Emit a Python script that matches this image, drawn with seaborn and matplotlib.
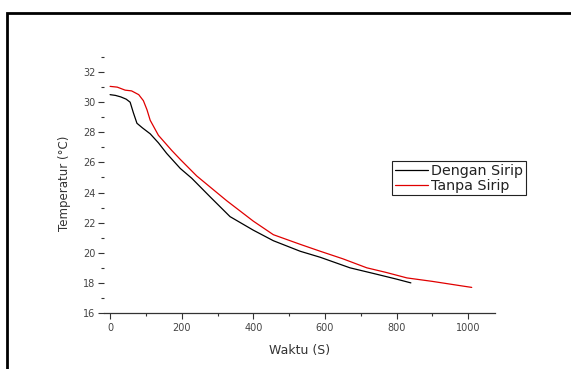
import matplotlib
matplotlib.use("Agg")
import matplotlib.pyplot as plt
import seaborn as sns
import pandas as pd
from matplotlib.patches import Rectangle

# Data
t_dengan = [0, 15, 30, 45, 56, 65, 75, 90, 112, 135, 158, 196, 228, 280, 335,
            400, 456, 531, 587, 670, 740, 800, 840]
T_dengan = [30.5, 30.45, 30.35, 30.2, 30.0, 29.3, 28.6, 28.3, 27.9, 27.3, 26.6,
            25.6, 24.95, 23.7, 22.4, 21.5, 20.8, 20.1, 19.7, 19.0, 18.6, 18.25, 18.0]
t_tanpa = [0, 20, 42, 60, 80, 93, 103, 112, 135, 172, 196, 242, 326, 400, 456,
           531, 587, 650, 717, 770, 829, 900, 982, 1010]
T_tanpa = [31.05, 31.0, 30.8, 30.75, 30.5, 30.1, 29.5, 28.8, 27.8, 26.8, 26.2,
           25.1, 23.45, 22.1, 21.2, 20.56, 20.1, 19.6, 19.0, 18.7, 18.33, 18.1,
           17.8, 17.7]
series_names = ["Dengan Sirip", "Tanpa Sirip"]
series_colors = ["#000000", "#e00000"]
x_ticks = [0, 200, 400, 600, 800, 1000]
y_ticks = [16, 18, 20, 22, 24, 26, 28, 30, 32]

df = pd.concat([
    pd.DataFrame({"Waktu": t_dengan, "Temp": T_dengan, "Seri": series_names[0]}),
    pd.DataFrame({"Waktu": t_tanpa, "Temp": T_tanpa, "Seri": series_names[1]}),
], ignore_index=True)

sns.set_style("white")
plt.rcParams["font.family"] = ["DejaVu Sans"]

W, H = 571, 369
fig = plt.figure(figsize=(W / 100, H / 100), dpi=100)
ax = fig.add_axes([104 / W, 1 - 313 / H, (495 - 104) / W, (313 - 54) / H])

sns.lineplot(data=df, x="Waktu", y="Temp", hue="Seri", hue_order=series_names,
             palette=series_colors, linewidth=0.9, ax=ax, legend=True,
             estimator=None, sort=False)

ax.set_xlim(-17, 1075)
ax.set_ylim(16, 33.2)
ax.set_xticks(x_ticks)
ax.set_xticklabels([str(v) for v in x_ticks])
ax.set_yticks(y_ticks)
ax.set_yticklabels([str(v) for v in y_ticks])
ax.set_xticks(range(100, 1075, 200), minor=True)
ax.set_yticks(range(17, 34, 2), minor=True)

for s in ["top", "right", "left"]:
    ax.spines[s].set_visible(False)
ax.spines["bottom"].set_color("#333333")
ax.spines["bottom"].set_linewidth(0.9)
ax.tick_params(axis="x", which="major", direction="out", length=4, width=0.8,
               labelsize=7, pad=3, color="#333333", bottom=True)
ax.tick_params(axis="x", which="minor", direction="out", length=2.5, width=0.8,
               color="#333333", bottom=True)
ax.tick_params(axis="y", which="major", direction="out", length=4, width=0.8,
               labelsize=7, pad=2, color="#333333", left=True)
ax.tick_params(axis="y", which="minor", direction="out", length=2.5, width=0.8,
               color="#333333", left=True)
for lbl in ax.get_xticklabels() + ax.get_yticklabels():
    lbl.set_color("#444444")

ax.set_xlabel("Waktu (S)", fontsize=9, color="#333333", labelpad=8)
ax.set_ylabel("Temperatur (°C)", fontsize=8.5, color="#333333", labelpad=9)

leg = ax.legend(loc="upper left", bbox_to_anchor=(392 / W, 1 - 161 / H),
                bbox_transform=fig.transFigure, fontsize=10.3, frameon=True,
                fancybox=False, framealpha=1, edgecolor="#222222",
                handlelength=2.3, handletextpad=0.25, borderpad=0.2,
                labelspacing=0.05, borderaxespad=0)
leg.get_frame().set_linewidth(0.8)
for txt in leg.get_texts():
    txt.set_color("#222222")

# outer border of the figure (only top and left visible)
fig.patches.append(Rectangle((7 / W, -0.1), 1.2, 1 - 13 / H + 0.1,
                             transform=fig.transFigure, fill=False,
                             edgecolor="black", linewidth=2.0))

fig.savefig("out.png", dpi=100)
